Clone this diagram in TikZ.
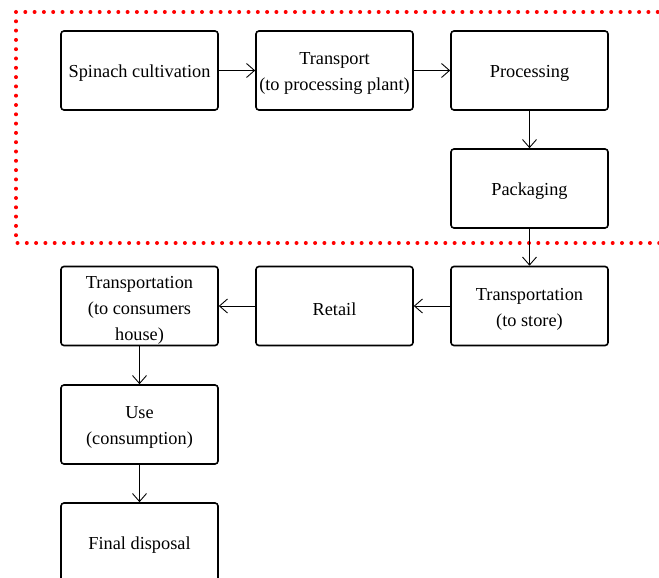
\documentclass[tikz,border=0pt]{standalone}
\usepackage{fontspec}
\setmainfont{Liberation Serif}
\usetikzlibrary{arrows.meta}
\begin{document}
\begin{tikzpicture}[x=1pt,y=1pt,
  stage/.style={draw, line width=1.6pt, rounded corners=3pt, fill=white,
    minimum width=157pt, minimum height=79pt, inner sep=0pt},
  lbl/.style={align=center, font=\fontsize{18.3}{26}\selectfont, inner sep=0pt, yshift=-3pt},
  flow/.style={line width=0.9pt, -{Straight Barb[length=8pt,width=14pt,line width=0.9pt]}},
  scopebox/.style={red, line width=4pt, line cap=round, dash pattern=on 0pt off 9.3pt}]
\useasboundingbox[fill=white] (0,0) rectangle (659,-578);
% dotted frame around the production stages
\draw[scopebox] (16,-12) -- (700,-12) (16,-12) -- (16,-243) -- (700,-243);
% stages
\node[stage, label={[lbl]center:Spinach cultivation}] (cult) at (139.5,-70.5) {};
\node[stage, label={[lbl]center:{Transport\\(to processing plant)}}] (tpp) at (334.5,-70.5) {};
\node[stage, label={[lbl]center:Processing}] (proc) at (529.5,-70.5) {};
\node[stage, label={[lbl]center:Packaging}] (pack) at (529.5,-188.5) {};
\node[stage, label={[lbl]center:{Transportation\\(to store)}}] (tst) at (529.5,-306) {};
\node[stage, label={[lbl]center:Retail}] (ret) at (334.5,-306) {};
\node[stage, label={[lbl,yshift=-1.5pt]center:{Transportation\\(to consumers\\house)}}] (tch) at (139.5,-306) {};
\node[stage, label={[lbl]center:{Use\\(consumption)}}] (use) at (139.5,-424.5) {};
\node[stage, label={[lbl]center:Final disposal}] (disp) at (139.5,-542.5) {};
% connectors
\draw[flow] (cult) -- (tpp);
\draw[flow] (tpp) -- (proc);
\draw[flow] (proc) -- (pack);
\draw[flow] (pack) -- (tst);
\draw[flow] (tst) -- (ret);
\draw[flow] (ret) -- (tch);
\draw[flow] (tch) -- (use);
\draw[flow] (use) -- (disp);
\end{tikzpicture}
\end{document}
